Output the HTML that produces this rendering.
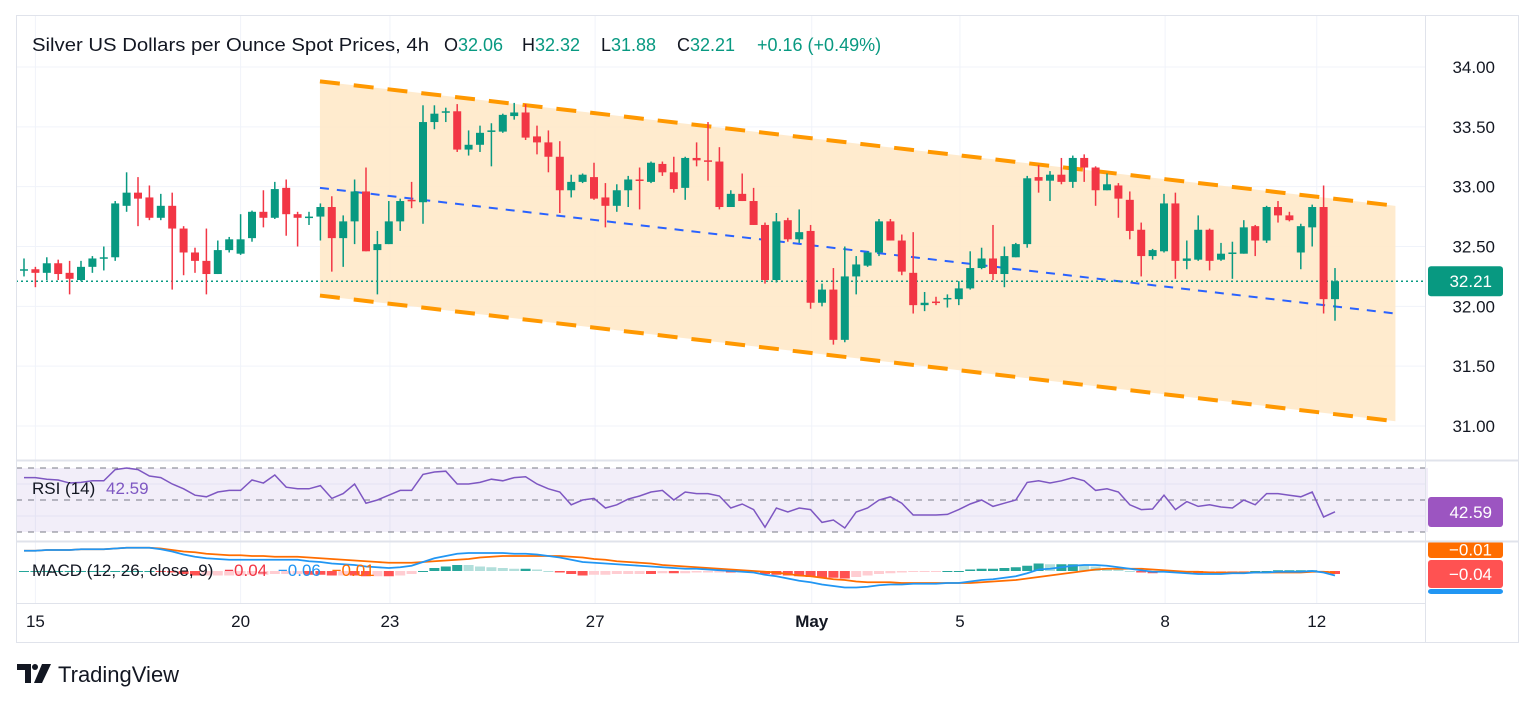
<!DOCTYPE html>
<html><head><meta charset="utf-8">
<style>
html,body{margin:0;padding:0;background:#fff;}
svg{display:block;font-family:"Liberation Sans",sans-serif;}
</style></head>
<body>
<svg id="chart" width="1536" height="704" viewBox="0 0 1536 704" xmlns="http://www.w3.org/2000/svg">
  <rect x="0" y="0" width="1536" height="704" fill="#ffffff"/>
  <g id="grid"></g>
  <g id="channel"></g>
  <g id="candles"></g>
  <g id="rsi"></g>
  <g id="macd"></g>
  <g id="axes"></g>
  <!-- pane borders -->
  <rect x="16.5" y="15.5" width="1502" height="627" fill="none" stroke="#e0e3eb"/>
  <line x1="16" y1="460.5" x2="1518" y2="460.5" stroke="#e0e3eb" stroke-width="2"/>
  <line x1="16" y1="541.5" x2="1518" y2="541.5" stroke="#e0e3eb" stroke-width="2"/>
  <line x1="16" y1="603.5" x2="1426" y2="603.5" stroke="#e0e3eb"/>
  <line x1="1425.5" y1="16" x2="1425.5" y2="642" stroke="#e0e3eb"/>
  <!-- header -->
  <text x="32" y="51" font-size="18" fill="#131722"><tspan textLength="397" lengthAdjust="spacingAndGlyphs">Silver US Dollars per Ounce Spot Prices, 4h</tspan><tspan x="444">O</tspan><tspan fill="#089981">32.06</tspan><tspan x="522">H</tspan><tspan fill="#089981">32.32</tspan><tspan x="601">L</tspan><tspan fill="#089981">31.88</tspan><tspan x="677">C</tspan><tspan fill="#089981">32.21</tspan><tspan x="757" fill="#089981">+0.16 (+0.49%)</tspan></text>
  <!-- logo -->
  <g>
    <path d="M17 664 h14 v19 h-6 v-13 h-8 z" fill="#131722"/>
    <circle cx="35" cy="667" r="3" fill="#131722"/>
    <path d="M42 664 h9 l-9 19 h-8 z" fill="#131722"/>
    <text x="58" y="682" font-size="22" fill="#131722">TradingView</text>
  </g>
</svg>
<script>
// ---- data ----
const dateLabels = ["15","20","23","27","May","5","8","12"];
const dateIdx = [1,19.0,32.1,50.1,69.1,82.1,100.1,113.4];
const priceTicks = [34.00,33.50,33.00,32.50,32.00,31.50,31.00];
const opens  = [32.30,32.31,32.28,32.36,32.28,32.22,32.33,32.40,32.41,32.84,32.95,32.91,32.74,32.84,32.65,32.45,32.38,32.27,32.47,32.44,32.57,32.79,32.74,32.99,32.77,32.74,32.75,32.83,32.57,32.71,32.96,32.47,32.52,32.71,32.89,32.87,33.54,33.62,33.63,33.31,33.35,33.46,33.46,33.59,33.62,33.42,33.37,33.25,32.97,33.04,33.08,32.91,32.84,32.97,33.06,33.04,33.19,33.12,32.99,33.24,33.22,33.21,32.83,32.94,32.88,32.68,32.22,32.72,32.56,32.63,32.03,32.14,31.72,32.25,32.34,32.45,32.71,32.55,32.28,32.01,32.04,32.06,32.06,32.15,32.32,32.40,32.27,32.41,32.52,33.08,33.05,33.10,33.04,33.24,33.16,32.97,33.01,32.89,32.64,32.42,32.46,32.86,32.38,32.39,32.64,32.39,32.44,32.44,32.67,32.55,32.83,32.76,32.45,32.66,32.83,32.06];
const highs  = [32.40,32.33,32.41,32.39,32.38,32.38,32.42,32.50,32.88,33.12,33.08,33.01,32.94,32.95,32.67,32.49,32.65,32.55,32.58,32.77,32.80,32.97,33.04,33.06,32.79,32.79,32.86,32.92,32.76,33.06,33.16,32.63,32.88,32.90,33.04,33.68,33.68,33.66,33.69,33.47,33.51,33.53,33.61,33.70,33.69,33.51,33.47,33.38,33.10,33.11,33.20,33.03,33.02,33.09,33.16,33.21,33.21,33.25,33.25,33.37,33.54,33.33,32.97,33.11,32.99,32.70,32.78,32.74,32.81,32.68,32.19,32.32,32.50,32.42,32.46,32.73,32.73,32.60,32.62,32.12,32.08,32.10,32.21,32.46,32.49,32.68,32.50,32.53,33.09,33.18,33.13,33.24,33.26,33.27,33.17,33.11,33.03,32.96,32.70,32.48,32.94,32.95,32.55,32.76,32.65,32.53,32.54,32.72,32.68,32.84,32.88,32.79,32.69,32.85,33.01,32.32];
const lows   = [32.25,32.16,32.22,32.22,32.10,32.21,32.28,32.30,32.38,32.79,32.67,32.72,32.72,32.14,32.26,32.28,32.10,32.27,32.45,32.43,32.54,32.66,32.73,32.59,32.50,32.68,32.55,32.29,32.33,32.52,32.46,32.10,32.52,32.63,32.82,32.69,33.48,33.54,33.29,33.26,33.29,33.17,33.45,33.56,33.39,33.27,33.12,32.78,32.91,33.03,32.89,32.66,32.79,32.83,32.81,33.03,33.09,32.95,32.89,33.17,33.05,32.81,32.83,32.88,32.68,32.19,32.20,32.54,32.53,31.98,32.00,31.68,31.70,32.10,32.33,32.42,32.55,32.26,31.94,31.96,32.01,31.99,32.01,32.14,32.31,32.22,32.16,32.41,32.49,32.95,32.88,33.02,32.99,33.04,32.84,32.97,32.74,32.56,32.25,32.39,32.45,32.23,32.31,32.38,32.30,32.38,32.23,32.44,32.42,32.53,32.70,32.71,32.31,32.50,31.94,31.88];
const closes = [32.31,32.28,32.36,32.27,32.23,32.33,32.40,32.41,32.86,32.95,32.90,32.74,32.84,32.65,32.45,32.38,32.27,32.47,32.56,32.56,32.79,32.74,32.98,32.77,32.74,32.75,32.83,32.57,32.71,32.96,32.46,32.52,32.71,32.88,32.88,33.54,33.61,33.63,33.31,33.35,33.45,33.47,33.60,33.62,33.41,33.37,33.25,32.97,33.04,33.10,32.90,32.84,32.97,33.06,33.05,33.20,33.12,32.98,33.24,33.22,33.21,32.83,32.94,32.88,32.68,32.22,32.71,32.56,32.62,32.03,32.14,31.72,32.25,32.35,32.45,32.71,32.55,32.29,32.01,32.03,32.03,32.07,32.15,32.32,32.40,32.27,32.42,32.52,33.07,33.05,33.10,33.04,33.24,33.16,32.97,33.02,32.90,32.63,32.42,32.47,32.86,32.38,32.40,32.64,32.38,32.44,32.45,32.66,32.55,32.83,32.76,32.72,32.67,32.83,32.06,32.21];
const channelIdx = [25.96,120.3];
const channelUpper = [33.88,32.84];
const channelMid = [32.99,31.94];
const channelLower = [32.09,31.04];
const rsiValues = [64,64,63,62.5,60.6,61,62,62,69,70,69,65,64,60,57,53,52,55,56,56,62.5,60.6,65.6,58,57,57,59,51,54,60,48,50,53,56,56,66,67.5,68,60,60,61,63,62,64,64.5,60,57,55,47,50,51,45,47,50.6,52.5,55,56,50,55,54,54,52.5,45,47.5,44,33,45,42.5,45,44,36,37.5,32.5,42.5,45,50,52,48,40.6,40.6,40.6,41,44,47.5,50,46,48,50,61,62,60.6,62,64,62,56,57,55,47,44,44.4,53,44,49,46,47,45.6,45,50,47,54,54,53,52,55,39.4,42.59];
const macdValues = [0.27,0.27,0.28,0.28,0.28,0.29,0.29,0.29,0.30,0.31,0.31,0.31,0.29,0.26,0.22,0.19,0.17,0.16,0.15,0.15,0.15,0.15,0.15,0.15,0.15,0.13,0.12,0.10,0.09,0.08,0.06,0.05,0.04,0.05,0.07,0.12,0.17,0.20,0.23,0.24,0.24,0.24,0.24,0.23,0.23,0.22,0.20,0.18,0.15,0.12,0.11,0.10,0.09,0.08,0.07,0.06,0.05,0.04,0.03,0.03,0.02,0.01,0.00,-0.01,-0.02,-0.05,-0.07,-0.10,-0.13,-0.15,-0.18,-0.20,-0.22,-0.22,-0.21,-0.19,-0.18,-0.18,-0.17,-0.17,-0.17,-0.16,-0.16,-0.14,-0.12,-0.11,-0.09,-0.07,-0.03,0.02,0.03,0.05,0.07,0.08,0.08,0.07,0.05,0.03,0.01,-0.01,-0.01,-0.02,-0.03,-0.04,-0.04,-0.04,-0.03,-0.03,-0.02,-0.02,-0.01,-0.01,-0.01,0.00,-0.02,-0.06];
const signalValues = [0.27,0.27,0.28,0.28,0.28,0.29,0.29,0.29,0.30,0.31,0.31,0.31,0.30,0.28,0.26,0.25,0.23,0.22,0.21,0.21,0.20,0.20,0.19,0.19,0.19,0.18,0.17,0.16,0.15,0.14,0.13,0.12,0.11,0.11,0.11,0.12,0.13,0.14,0.15,0.16,0.18,0.19,0.20,0.20,0.20,0.20,0.20,0.20,0.19,0.18,0.16,0.15,0.13,0.12,0.11,0.10,0.08,0.07,0.06,0.05,0.04,0.03,0.02,0.01,0.00,-0.01,-0.02,-0.04,-0.06,-0.07,-0.09,-0.11,-0.12,-0.14,-0.15,-0.15,-0.15,-0.16,-0.16,-0.16,-0.16,-0.16,-0.16,-0.16,-0.15,-0.14,-0.13,-0.12,-0.10,-0.08,-0.06,-0.04,-0.02,0.00,0.02,0.03,0.03,0.03,0.03,0.02,0.01,0.00,-0.01,-0.01,-0.02,-0.02,-0.02,-0.02,-0.02,-0.02,-0.02,-0.02,-0.02,-0.01,-0.01,-0.02];
const lastClose = 32.21;

// ---- axis functions ----
const NS = "http://www.w3.org/2000/svg";
const xOf = i => 24 + 11.4 * i;
const yOf = p => 67 + (34 - p) * 119.67;
const yRsi = r => 500 - (r - 50) * 1.6;
const yMacd = v => 571 - v * 75;
function mk(tag, attrs, parent) {
  const e = document.createElementNS(NS, tag);
  for (const k in attrs) e.setAttribute(k, attrs[k]);
  parent.appendChild(e);
  return e;
}
const G = id => document.getElementById(id);
const GREEN = "#089981", RED = "#f23645";

// grid
const grid = G("grid");
priceTicks.forEach(p => {
  const l = mk("line", {x1:16, x2:1425, y1:yOf(p), y2:yOf(p), stroke:"#f0f3fa", "stroke-width":1}, grid);
  
  
});
dateIdx.forEach(d => {
  const l = mk("line", {x1:xOf(d), x2:xOf(d), y1:16, y2:603, stroke:"#f0f3fa", "stroke-width":1}, grid);
  
  
});
[yRsi(60), yRsi(40)].forEach(y => {
  const l = mk("line", {x1:16, x2:1425, y1:y, y2:y, stroke:"#f0f3fa"}, grid);
  
  
});

// channel
const ch = G("channel");
const cx0 = xOf(channelIdx[0]), cx1 = xOf(channelIdx[1]);
const fill = mk("polygon", {points:`${cx0},${yOf(channelUpper[0])} ${cx1},${yOf(channelUpper[1])} ${cx1},${yOf(channelLower[1])} ${cx0},${yOf(channelLower[0])}`, fill:"#ffe9c9", "fill-opacity":0.9}, ch);


const up = mk("line", {x1:cx0, y1:yOf(channelUpper[0]), x2:cx1, y2:yOf(channelUpper[1]), stroke:"#ff9800", "stroke-width":4, "stroke-dasharray":"20 14"}, ch);


const lo = mk("line", {x1:cx0, y1:yOf(channelLower[0]), x2:cx1, y2:yOf(channelLower[1]), stroke:"#ff9800", "stroke-width":4, "stroke-dasharray":"20 14"}, ch);


const mid = mk("line", {x1:cx0, y1:yOf(channelMid[0]), x2:cx1, y2:yOf(channelMid[1]), stroke:"#2962ff", "stroke-width":2, "stroke-dasharray":"9 8"}, ch);



// price line
const pl = mk("line", {x1:16, x2:1425, y1:yOf(lastClose), y2:yOf(lastClose), stroke:GREEN, "stroke-width":1.5, "stroke-dasharray":"2 3"}, ch);



// candles
const cg = G("candles");
opens.forEach((o, i) => {
  const c = closes[i], col = c >= o ? GREEN : RED, x = xOf(i);
  const g = mk("g", {}, cg);
  
  
  mk("line", {x1:x, x2:x, y1:yOf(highs[i]), y2:yOf(lows[i]), stroke:col, "stroke-width":1.5}, g);
  const top = yOf(Math.max(o, c)), bot = yOf(Math.min(o, c));
  mk("rect", {x:x - 4, y:top, width:8, height:Math.max(1.5, bot - top), fill:col}, g);
});

// RSI
const rg = G("rsi");
const band = mk("rect", {x:16, y:yRsi(70), width:1412, height:yRsi(30) - yRsi(70), fill:"#7e57c2", "fill-opacity":0.1}, rg);


[70, 50, 30].forEach(v => {
  const l = mk("line", {x1:16, x2:1428, y1:yRsi(v), y2:yRsi(v), stroke:"#787b86", "stroke-dasharray":"6 6"}, rg);
  
  
});
const rl = mk("polyline", {points:rsiValues.map((r, i) => `${xOf(i)},${yRsi(r)}`).join(" "), fill:"none", stroke:"#7e57c2", "stroke-width":1.5}, rg);



// MACD
const mg = G("macd");
const hist = macdValues.map((m, i) => m - signalValues[i]);
hist.forEach((h, i) => {
  const prev = i > 0 ? hist[i - 1] : h;
  let col;
  if (h >= 0) col = h >= prev ? "#26a69a" : "#b2dfdb";
  else col = h < prev ? "#ff5252" : "#ffcdd2";
  const y0 = yMacd(0), y1 = yMacd(h);
  const r = mk("rect", {x:xOf(i) - 5, y:Math.min(y0, y1), width:10, height:Math.max(1, Math.abs(y1 - y0)), fill:col}, mg);
  
  
});
const sl = mk("polyline", {points:signalValues.map((v, i) => `${xOf(i)},${yMacd(v)}`).join(" "), fill:"none", stroke:"#ff6d00", "stroke-width":1.8}, mg);


const ml = mk("polyline", {points:macdValues.map((v, i) => `${xOf(i)},${yMacd(v)}`).join(" "), fill:"none", stroke:"#2196f3", "stroke-width":1.8}, mg);



// axes labels
const ax = G("axes");
priceTicks.forEach(p => {
  const t = mk("text", {x:1495, y:yOf(p) + 6, "font-size":17, fill:"#131722", "text-anchor":"end"}, ax);
  t.textContent = p.toFixed(2);
  
  
});
dateLabels.forEach((d, k) => {
  const t = mk("text", {x:xOf(dateIdx[k]), y:627, "font-size":17, fill:"#131722", "text-anchor":"middle", "font-weight": d === "May" ? "bold" : "normal"}, ax);
  t.textContent = d;
  
  
});
function tag(y, h, color, text, name) {
  const g = mk("g", {}, ax);
  
  
  mk("rect", {x:1428, y:y, width:75, height:h, rx:3, fill:color}, g);
  if (text) {
    const t = mk("text", {x:1492, y:y + h / 2 + 6, "font-size":17, fill:"#fff", "text-anchor":"end"}, g);
    t.textContent = text;
  }
}
const ly = yOf(lastClose);
tag(ly - 15, 30, GREEN, lastClose.toFixed(2), 'last-price-tag');
tag(497, 30, "#9c55c1", rsiValues[rsiValues.length - 1].toFixed(2), 'rsi-value-tag');
tag(541, 17, "#ff6d00", "−0.01", 'signal-value-tag');
tag(560, 28, "#ff5252", "−0.04", 'histogram-value-tag');
tag(589, 5, "#2196f3", "", 'macd-value-tag');

// legends
const rsiLeg = mk("text", {x:32, y:494, "font-size":17, fill:"#131722"}, ax);
rsiLeg.innerHTML = 'RSI (14) <tspan fill="#7e57c2" dx="6">42.59</tspan>';


const macdLeg = mk("text", {x:32, y:576, "font-size":17, fill:"#131722"}, ax);
macdLeg.innerHTML = 'MACD (12, 26, close, 9) <tspan fill="#f23645" dx="6">−0.04</tspan> <tspan fill="#2196f3" dx="6">−0.06</tspan> <tspan fill="#ff6d00" dx="6">−0.01</tspan>';


</script>
</body></html>
